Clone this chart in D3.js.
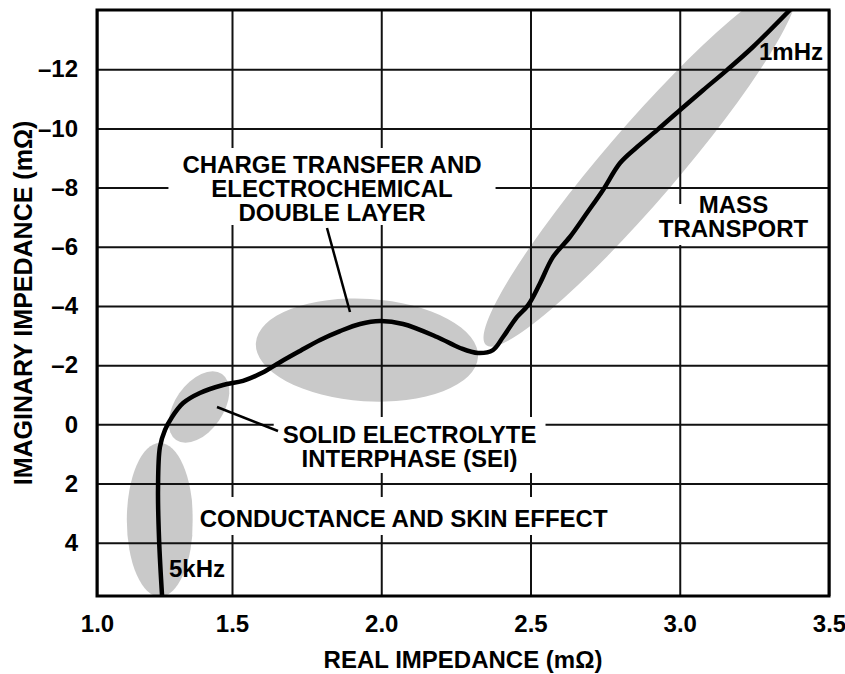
<!DOCTYPE html>
<html>
<head>
<meta charset="utf-8">
<script src="https://cdn.jsdelivr.net/npm/d3@7"></script>
<style>
  body { margin: 0; background: #fff; }
  svg text { font-family: "Liberation Sans", Arial, Helvetica, sans-serif; font-weight: bold; fill: #000; }
</style>
</head>
<body>
<svg id="chart" width="845" height="674"></svg>
<script>
// Nyquist trace, 5kHz (bottom) -> 1mHz (top right), values in mOhm
const realZ = [1.241, 1.230, 1.226, 1.233, 1.252, 1.278, 1.319, 1.381, 1.467, 1.537,
               1.601, 1.661, 1.728, 1.795, 1.862, 1.929, 1.996, 2.073, 2.187, 2.264,
               2.324, 2.374, 2.408, 2.455, 2.492, 2.532, 2.575, 2.632, 2.689, 2.743,
               2.800, 2.857, 2.924, 3.001, 3.078, 3.158, 3.245, 3.369];
const imagZ = [5.80, 3.91, 2.22, 0.77, 0.19, -0.25, -0.72, -1.06, -1.33, -1.47,
               -1.74, -2.10, -2.48, -2.85, -3.15, -3.39, -3.49, -3.39, -2.95, -2.58,
               -2.41, -2.51, -2.95, -3.63, -4.03, -4.77, -5.65, -6.33, -7.14, -7.92,
               -8.83, -9.37, -9.94, -10.62, -11.29, -11.97, -12.75, -14.0];

const xTicks = [1.0, 1.5, 2.0, 2.5, 3.0, 3.5];
const yTicks = [-12, -10, -8, -6, -4, -2, 0, 2, 4];

// shaded regions: major axis end points (real, imag) and minor/major ratio
const regionNames = ['conductance', 'sei', 'charge', 'mass'];
const regionStart = [[1.233, 5.83], [1.293, 0.53], [1.580, -2.75], [2.351, -2.68]];
const regionEnd   = [[1.233, 0.63], [1.463, -1.70], [2.324, -2.27], [3.386, -14.84]];
const regionRatio = [0.43, 0.6, 0.46, 0.156];

const svg = d3.select('#chart');
const plotL = 97, plotR = 829, plotT = 10, plotB = 596;

// the printed axis is not evenly spaced between 1.0 and 1.5
const x = d3.scaleLinear().domain([1.0, 1.5, 3.5]).range([plotL, 232, plotR]);
const y = d3.scaleLinear().domain([-14, 5.8]).range([plotT, plotB]);

svg.append('defs').append('clipPath').attr('id', 'plot')
  .append('rect').attr('x', plotL).attr('y', plotT)
  .attr('width', plotR - plotL).attr('height', plotB - plotT);

// gray regions
const regions = svg.append('g').attr('clip-path', 'url(#plot)');
regionNames.forEach((name, i) => {
  const x1 = x(regionStart[i][0]), y1 = y(regionStart[i][1]);
  const x2 = x(regionEnd[i][0]), y2 = y(regionEnd[i][1]);
  const rx = Math.hypot(x2 - x1, y2 - y1) / 2;
  const ang = Math.atan2(y2 - y1, x2 - x1) * 180 / Math.PI;
  regions.append('ellipse')
    .attr('class', name)
    .attr('transform', `translate(${(x1 + x2) / 2},${(y1 + y2) / 2}) rotate(${ang})`)
    .attr('rx', rx).attr('ry', rx * regionRatio[i])
    .attr('fill', '#c9c9c9');
});

// axes + grid
const xAxis = d3.axisBottom(x).tickValues(xTicks).tickFormat(d3.format('.1f'))
  .tickSizeInner(-(plotB - plotT)).tickSizeOuter(0).tickPadding(19);
const yAxis = d3.axisLeft(y).tickValues(yTicks).tickFormat(d => d < 0 ? '\u2013' + (-d) : d)
  .tickSizeInner(-(plotR - plotL)).tickSizeOuter(0).tickPadding(19);

const gx = svg.append('g').attr('transform', `translate(0,${plotB})`).call(xAxis);
const gy = svg.append('g').attr('transform', `translate(${plotL},0)`).call(yAxis);
[gx, gy].forEach(g => {
  g.select('.domain').remove();
  g.selectAll('.tick line').attr('stroke', '#111').attr('stroke-width', 2);
  g.selectAll('.tick text').style('font-size', '24px').attr('fill', '#000');
});

// labels with white boxes that break the grid; pad = [side, top, bottom]
const labelLayer = svg.append('g');
function label(lines, cx, baseline, pad) {
  const g = labelLayer.append('g');
  const bg = g.append('rect').attr('fill', '#fff');
  const t = g.append('text').attr('text-anchor', 'middle').style('font-size', '24px');
  lines.forEach((s, i) => {
    t.append('tspan').attr('x', cx).attr('y', baseline + i * 24).text(s);
  });
  const b = t.node().getBBox();
  bg.attr('x', b.x - pad[0]).attr('y', b.y - pad[1])
    .attr('width', b.width + 2 * pad[0]).attr('height', b.height + pad[1] + pad[2]);
  return g;
}

label(['CHARGE TRANSFER AND', 'ELECTROCHEMICAL', 'DOUBLE LAYER'], x(1.835), 173, [14, 3, -1]);
label(['SOLID ELECTROLYTE', 'INTERPHASE (SEI)'], x(2.095), 443, [9, 4, 1]);
label(['CONDUCTANCE AND SKIN EFFECT'], x(2.075), 527, [7, 8, 3]);
label(['MASS', 'TRANSPORT'], x(3.18), 213, [-2, -13, 3]);

// leader lines
svg.append('line').attr('x1', 327).attr('y1', 228).attr('x2', 350).attr('y2', 312)
  .attr('stroke', '#000').attr('stroke-width', 2.5);
svg.append('line').attr('x1', 217).attr('y1', 407).attr('x2', 278).attr('y2', 431)
  .attr('stroke', '#000').attr('stroke-width', 2.5);

// frame
svg.append('rect').attr('x', plotL).attr('y', plotT)
  .attr('width', plotR - plotL).attr('height', plotB - plotT)
  .attr('fill', 'none').attr('stroke', '#000').attr('stroke-width', 3);

// trace
const line = d3.line().x(d => x(d[0])).y(d => y(d[1])).curve(d3.curveCatmullRom.alpha(0.5));
svg.append('path')
  .datum(realZ.map((r, i) => [r, imagZ[i]]))
  .attr('clip-path', 'url(#plot)')
  .attr('d', line)
  .attr('fill', 'none').attr('stroke', '#000').attr('stroke-width', 4.5)
  .attr('stroke-linecap', 'round');

// frequency markers
svg.append('text').attr('x', 823).attr('y', 60).attr('text-anchor', 'end')
  .style('font-size', '24px').text('1mHz');
svg.append('text').attr('x', 169).attr('y', 577)
  .style('font-size', '24px').text('5kHz');

// axis titles
svg.append('text').attr('x', (plotL + plotR) / 2).attr('y', 668).attr('text-anchor', 'middle')
  .style('font-size', '24px').text('REAL IMPEDANCE (m\u03a9)');
svg.append('text').attr('transform', `translate(32,${(plotT + plotB) / 2}) rotate(-90)`)
  .attr('text-anchor', 'middle').style('font-size', '25px').text('IMAGINARY IMPEDANCE (m\u03a9)');
</script>
</body>
</html>
